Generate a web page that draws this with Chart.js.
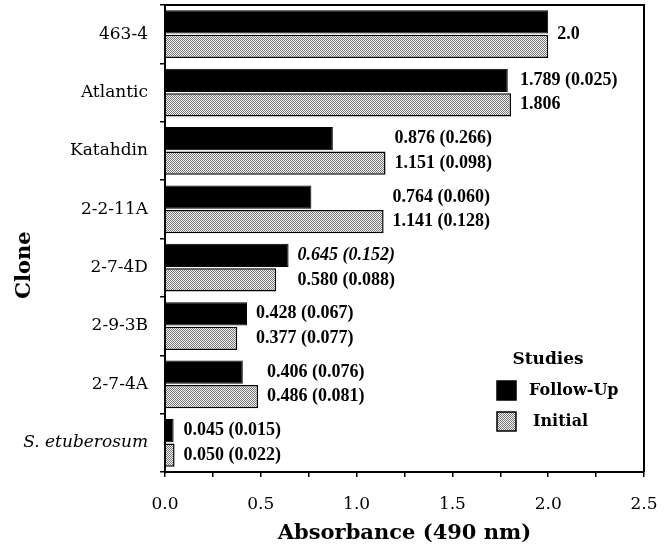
<!DOCTYPE html>
<html>
<head>
<meta charset="utf-8">
<script src="https://cdn.jsdelivr.net/npm/chart.js"></script>
<style>
  body { margin: 0; background: #fff; }
  #wrap { width: 672px; height: 548px; }
</style>
</head>
<body>
<div id="wrap"><canvas id="chart" width="672" height="548"></canvas></div>
<script>
var clones = ["463-4", "Atlantic", "Katahdin", "2-2-11A", "2-7-4D", "2-9-3B", "2-7-4A", "S. etuberosum"];
var followUp = [2.0, 1.789, 0.876, 0.764, 0.645, 0.428, 0.406, 0.045];
var initial = [2.0, 1.806, 1.151, 1.141, 0.580, 0.377, 0.486, 0.050];
// printed next to the bars, "" = no text for that bar
var followText = ["2.0", "1.789 (0.025)", "0.876 (0.266)", "0.764 (0.060)", "0.645 (0.152)", "0.428 (0.067)", "0.406 (0.076)", "0.045 (0.015)"];
var initialText = ["", "1.806", "1.151 (0.098)", "1.141 (0.128)", "0.580 (0.088)", "0.377 (0.077)", "0.486 (0.081)", "0.050 (0.022)"];
var xTicks = [0.0, 0.5, 1.0, 1.5, 2.0, 2.5];

var serif = "'DejaVu Serif', serif";

function stipple() {
    var c = document.createElement("canvas");
    c.width = 4; c.height = 4;
    var g = c.getContext("2d");
    g.fillStyle = "#f4f4f4";
    g.fillRect(0, 0, 4, 4);
    g.fillStyle = "#777";
    for (var y = 0; y < 4; y++) {
        for (var x = 0; x < 4; x++) {
            if ((x + y) % 2 == 0) g.fillRect(x, y, 1, 1);
        }
    }
    return g.createPattern(c, "repeat");
}
var grayFill = stipple();

var extras = {
    id: "extras",
    afterDatasetsDraw: function(chart) {
        var ctx = chart.ctx;
        var a = chart.chartArea;
        ctx.save();
        // frame top and right
        ctx.strokeStyle = "#000";
        ctx.lineWidth = 2;
        ctx.beginPath();
        ctx.moveTo(a.left, a.top);
        ctx.lineTo(a.right, a.top);
        ctx.lineTo(a.right, a.bottom);
        ctx.stroke();

        // y axis title, sits a bit below the middle in the original
        ctx.save();
        ctx.translate(25, a.top + 260);
        ctx.rotate(-Math.PI / 2);
        ctx.fillStyle = "#000";
        ctx.textAlign = "center";
        ctx.textBaseline = "middle";
        ctx.font = "bold 21px " + serif;
        ctx.fillText("Clone", 0, 0);
        ctx.restore();

        // value labels
        var m0 = chart.getDatasetMeta(0).data;
        var m1 = chart.getDatasetMeta(1).data;
        ctx.fillStyle = "#000";
        ctx.textBaseline = "middle";
        ctx.textAlign = "left";
        clones.forEach(function(c, i) {
            var x = Math.max(m0[i].x, m1[i].x) + 9;
            var t0 = followText[i], t1 = initialText[i];
            ctx.font = (i == 4 ? "italic " : "") + "bold 18px 'Liberation Serif', serif";
            if (t0 && t1) {
                ctx.fillText(t0, x, m0[i].y);
                ctx.font = "bold 18px 'Liberation Serif', serif";
                ctx.fillText(t1, x, m1[i].y);
            } else {
                ctx.fillText(t0 || t1, x, (m0[i].y + m1[i].y) / 2);
            }
        });

        // legend
        var lx = a.right - 147;
        var ly = a.top + 355;
        ctx.textAlign = "center";
        ctx.font = "bold 17px " + serif;
        ctx.fillText("Studies", lx + 51, ly);
        ctx.textAlign = "left";
        ctx.font = "bold 16px " + serif;
        chart.data.datasets.forEach(function(ds, k) {
            var by = ly + 21 + k * 31;
            ctx.fillStyle = ds.backgroundColor;
            ctx.fillRect(lx, by, 19, 19);
            ctx.strokeStyle = "#000";
            ctx.lineWidth = 1.5;
            ctx.strokeRect(lx, by, 19, 19);
            ctx.fillStyle = "#000";
            ctx.fillText(ds.label, lx + 32 + k * 4, by + 10);
        });
        ctx.restore();
    }
};

new Chart(document.getElementById("chart"), {
    type: "bar",
    data: {
        labels: clones,
        datasets: [
            {
                label: "Follow-Up",
                data: followUp,
                backgroundColor: "#000",
                borderColor: "#000",
                borderWidth: 1,
            },
            {
                label: "Initial",
                data: initial,
                backgroundColor: grayFill,
                borderColor: "#000",
                borderWidth: 1.5,
            },
        ]
    },
    options: {
        indexAxis: "y",
        responsive: false,
        animation: false,
        categoryPercentage: 0.84,
        barPercentage: 0.95,
        layout: {
            padding: {left: 0, right: 28, top: 5, bottom: 0}
        },
        scales: {
            x: {
                min: 0,
                max: 2.5,
                afterBuildTicks: function(s) {
                    // minor ticks every 0.25, labels only on xTicks
                    var t = [];
                    for (var i = 0; i <= 10; i++) t.push({value: i * 0.25});
                    s.ticks = t;
                },
                ticks: {
                    autoSkip: false,
                    maxRotation: 0,
                    color: "#000",
                    padding: 17,
                    font: {family: serif, size: 17},
                    callback: function(v) {
                        return xTicks.indexOf(v) >= 0 ? v.toFixed(1) : "";
                    },
                },
                grid: {
                    drawOnChartArea: false,
                    color: "#000",
                    tickLength: 5,
                    lineWidth: 1.5,
                },
                border: {color: "#000", width: 2},
                title: {
                    display: true,
                    text: "Absorbance (490 nm)",
                    color: "#000",
                    font: {family: serif, size: 21, weight: "bold"},
                    padding: {top: 0, bottom: 2},
                },
                afterFit: function(s) {
                    s.height = 76;
                    s.paddingLeft = 0;
                    s.paddingRight = 0;
                },
            },
            y: {
                grid: {
                    drawOnChartArea: false,
                    offset: true,
                    color: "#000",
                    tickLength: 5,
                    lineWidth: 1.5,
                },
                border: {color: "#000", width: 2},
                ticks: {
                    autoSkip: false,
                    color: "#000",
                    padding: 12,
                    font: function(c) {
                        return {family: serif, size: 17, style: c.index == 7 ? "italic" : "normal"};
                    },
                },
                afterFit: function(s) {
                    s.width = 165;
                    s.paddingTop = 0;
                    s.paddingBottom = 0;
                },
            }
        },
        plugins: {
            legend: {display: false},
            tooltip: {enabled: false},
        }
    },
    plugins: [extras]
});
</script>
</body>
</html>
